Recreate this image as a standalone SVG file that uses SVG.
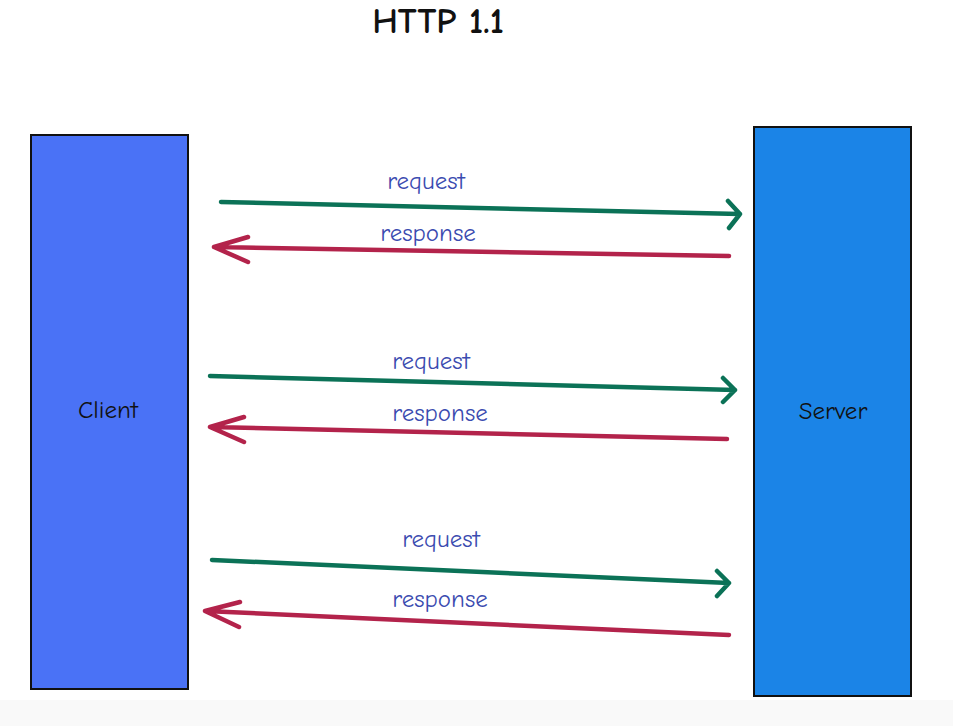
<svg xmlns="http://www.w3.org/2000/svg" width="953" height="726" viewBox="0 0 953 726">
<style>
.req{stroke:#0b7257;stroke-width:4.5;fill:none;stroke-linecap:round;stroke-linejoin:round}
.res{stroke:#b3234b;stroke-width:4.5;fill:none;stroke-linecap:round;stroke-linejoin:round}
.lbl{font-family:"Comic Neue","Noto Sans","Liberation Sans",sans-serif;font-size:25px;fill:#3b4bb0;text-anchor:middle}
.nt{font-family:"Comic Neue","Noto Sans","Liberation Sans",sans-serif;font-size:25px;fill:#111;text-anchor:middle}
.box{stroke:#111;stroke-width:2}
</style>
<rect x="0" y="0" width="953" height="726" fill="#ffffff"/>
<rect x="0" y="700" width="953" height="26" fill="#f9f9f9"/>
<text x="438" y="33" font-family="Comic Neue,Noto Sans,Liberation Sans,sans-serif" font-size="36" font-weight="bold" fill="#111" text-anchor="middle">HTTP 1.1</text>
<g id="client">
<rect class="box" x="31" y="135" width="157" height="554" fill="#4a72f6"/>
<text class="nt" x="108" y="418">Client</text>
</g>
<g id="server">
<rect class="box" x="754" y="127" width="157" height="569" fill="#1b84e7"/>
<text class="nt" x="833" y="419">Server</text>
</g>
<g id="connectors">
<path class="req" d="M221 202 L740 214 M728 201 L740 214 L729 228"/>
<path class="res" d="M729 256 L214 247 M248 237 L214 247 L248 262"/>
<path class="req" d="M210 376 L735 390 M723 378 L735 390 L723 402"/>
<path class="res" d="M727 439 L210 427 M244 417 L210 427 L244 442"/>
<path class="req" d="M212 560 L729 583 M717 571 L729 583 L717 596"/>
<path class="res" d="M729 635 L205 611 M240 602 L205 611 L239 627"/>
</g>
<g id="labels">
<text class="lbl" x="426" y="189">request</text>
<text class="lbl" x="428" y="241">response</text>
<text class="lbl" x="431" y="369">request</text>
<text class="lbl" x="440" y="421">response</text>
<text class="lbl" x="441" y="547">request</text>
<text class="lbl" x="440" y="607">response</text>
</g>
</svg>
